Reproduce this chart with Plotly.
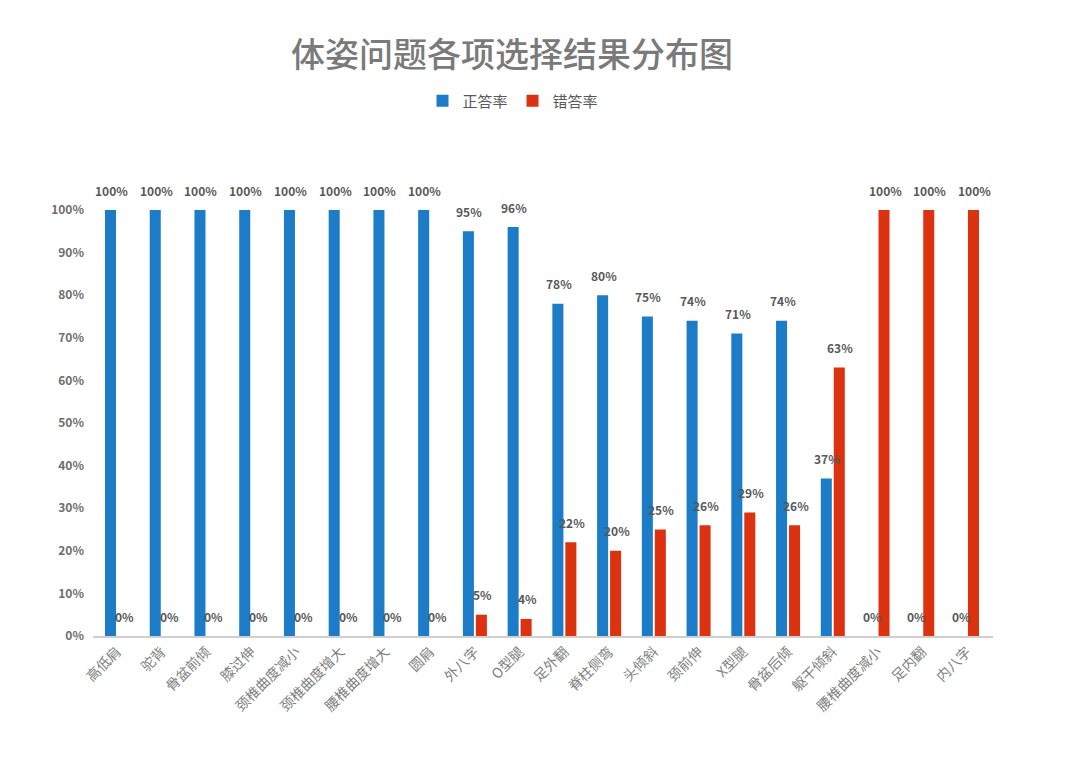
import plotly.graph_objects as go

categories = ["高低肩", "驼背", "骨盆前倾", "膝过伸", "颈椎曲度减小", "颈椎曲度增大",
              "腰椎曲度增大", "圆肩", "外八字", "O型腿", "足外翻", "脊柱侧弯", "头倾斜",
              "颈前伸", "X型腿", "骨盆后倾", "躯干倾斜", "腰椎曲度减小", "足内翻", "内八字"]
correct_rate = [1.00, 1.00, 1.00, 1.00, 1.00, 1.00, 1.00, 1.00, 0.95, 0.96,
                0.78, 0.80, 0.75, 0.74, 0.71, 0.74, 0.37, 0.00, 0.00, 0.00]
wrong_rate = [0.00, 0.00, 0.00, 0.00, 0.00, 0.00, 0.00, 0.00, 0.05, 0.04,
              0.22, 0.20, 0.25, 0.26, 0.29, 0.26, 0.63, 1.00, 1.00, 1.00]
series_names = ["正答率", "错答率"]
series_colors = ["#1c7cc8", "#dc3210"]
ytick_vals = [0, 0.1, 0.2, 0.3, 0.4, 0.5, 0.6, 0.7, 0.8, 0.9, 1.0]

font_family = "Noto Sans CJK SC, Microsoft YaHei, sans-serif"
label_color = "#595959"

fig = go.Figure()
for name, vals, color in zip(series_names, [correct_rate, wrong_rate], series_colors):
    fig.add_trace(go.Bar(x=categories, y=vals, name=name,
                         marker=dict(color=color, line=dict(width=0))))

# data labels, placed above each bar of the group
slot_shift = [-6.5, 6.5]
for shift, vals in zip(slot_shift, [correct_rate, wrong_rate]):
    for cat, v in zip(categories, vals):
        fig.add_annotation(x=cat, y=v, xref="x", yref="y", text=f"{round(v*100)}%",
                           showarrow=False, xshift=shift + 1, yshift=20, yanchor="middle",
                           font=dict(size=12, color=label_color, family=font_family,
                                     weight="bold"))

fig.update_layout(
    width=1080, height=758,
    paper_bgcolor="white", plot_bgcolor="white",
    margin=dict(l=85, r=95, t=202, b=130),
    barmode="group", bargap=0.42, bargroupgap=0.15,
    title=dict(text="体姿问题各项选择结果分布图", x=504 / 1080, xanchor="center",
               y=1 - 47 / 758, yanchor="middle",
               font=dict(size=34, color="#7a7a7a", family=font_family, weight=500)),
    legend=dict(orientation="h", x=(505 - 85) / 900, xanchor="center", y=(628 - 93) / 426,
                yanchor="middle", font=dict(size=15, color=label_color, family=font_family),
                itemwidth=30, traceorder="normal"),
    font=dict(family=font_family, color=label_color),
)
fig.update_xaxes(showgrid=False, showline=True, linecolor="#cfcfcf", linewidth=2,
                 ticks="", tickangle=-45,
                 tickfont=dict(size=14, color="#7f7f7f", family=font_family))
fig.update_yaxes(range=[0, 1], tickvals=ytick_vals, tickformat=".0%", showgrid=False,
                 zeroline=False, showline=False, ticks="", ticklabelstandoff=8,
                 tickfont=dict(size=12, color="#6e6e6e", family=font_family, weight="bold"))

fig.write_html("out.html")
